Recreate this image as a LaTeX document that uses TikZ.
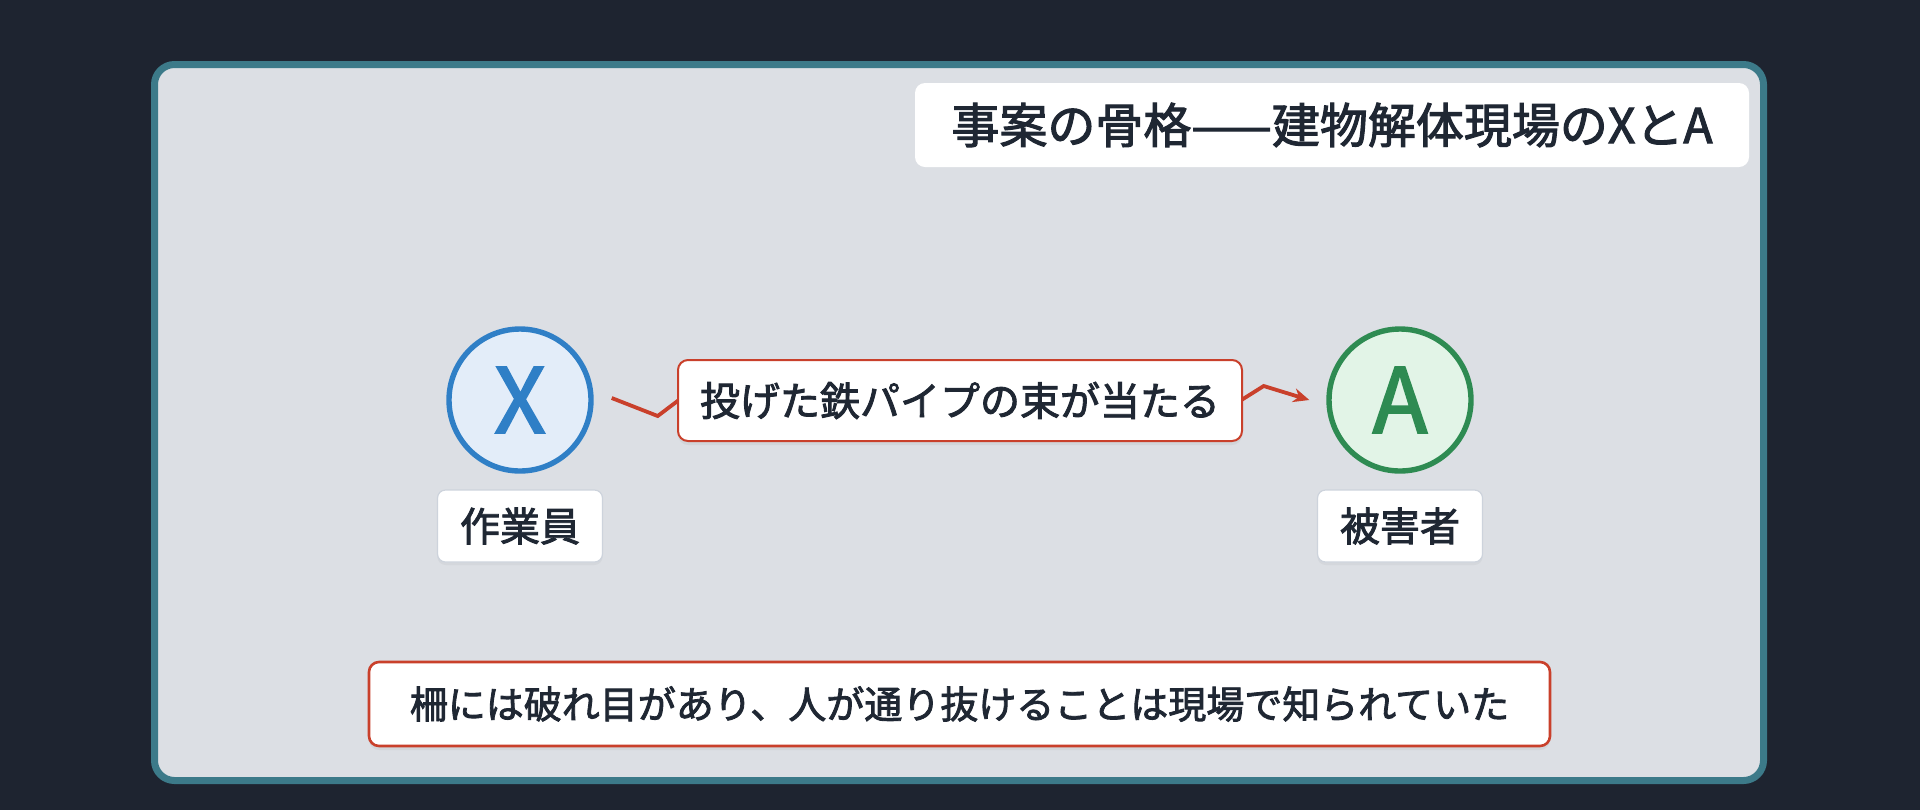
\documentclass[tikz,border=0pt]{standalone}
\usepackage{fontspec}
\setmainfont{Noto Sans CJK JP}
\newfontfamily\medium{Noto Sans CJK JP}[FakeBold=2.2]
\usetikzlibrary{arrows.meta,shadows}

\definecolor{pagebg}{HTML}{1E2430}
\definecolor{framerim}{HTML}{3C7A89}
\definecolor{framefill}{HTML}{DCDFE4}
\definecolor{ink}{HTML}{1F2733}
\definecolor{xblue}{HTML}{2F7FC6}
\definecolor{xfill}{HTML}{E3EDF9}
\definecolor{agreen}{HTML}{2E8B52}
\definecolor{afill}{HTML}{E2F4E7}
\definecolor{hitred}{HTML}{C9402B}
\definecolor{tagrim}{HTML}{CDD3DC}

\begin{document}
\begin{tikzpicture}[x=0.5pt, y=-0.5pt]
\tikzstyle{frame}    = [draw=framerim, line width=3.5pt, fill=framefill, rounded corners=10pt]
\tikzstyle{titlebox} = [rectangle, rounded corners=5pt, fill=white, text=ink, font=\medium\fontsize{24pt}{28pt}\selectfont, minimum width=417pt, minimum height=42pt]
\tikzstyle{actor}    = [circle, line width=2.7pt, minimum size=71pt, inner sep=0pt, font=\medium\fontsize{45pt}{50pt}\selectfont]
\tikzstyle{tag}      = [rectangle, rounded corners=4pt, fill=white, draw=tagrim, line width=0.6pt, text=ink, font=\medium\fontsize{20pt}{24pt}\selectfont, minimum width=82.5pt, minimum height=36pt, drop shadow={opacity=0.08, shadow xshift=0pt, shadow yshift=-1.5pt}]
\tikzstyle{redbox}   = [rectangle, rounded corners=5pt, fill=white, draw=hitred, line width=1pt, text=ink, font=\medium\fontsize{20pt}{24pt}\selectfont, minimum height=40.5pt, drop shadow={opacity=0.1, shadow xshift=0pt, shadow yshift=-2pt}]
\tikzstyle{hit}      = [draw=hitred, line width=1.9pt, line join=miter, -{Stealth[length=8pt,width=7pt]}]

\fill [pagebg] (0,0) rectangle (1920,810);
\useasboundingbox (0,0) rectangle (1920,810);
\draw [frame] (154.5,64.5) rectangle (1763.5,780.5);

\node (title)  [titlebox] at (1332,125) {事案の骨格——建物解体現場のXとA};

\node (X)      [actor, draw=xblue, fill=xfill, text=xblue] at (520,400) {X};
\node (A)      [actor, draw=agreen, fill=afill, text=agreen] at (1400,400) {A};
\node (worker) [tag, node distance=63pt, below of=X] {作業員};
\node (victim) [tag, node distance=63pt, below of=A] {被害者};

\draw [hit] ([xshift=9pt,yshift=1pt]X.east) -- ++(46,18) -- ++(45,-34) -- ++(518,31) -- ++(43,-27) -- ([xshift=-8.5pt]A.west);
\node (throw)  [redbox, minimum width=282pt] at (960,400.5) {投げた鉄パイプの束が当たる};

\node (fence)  [redbox, line width=1.3pt, minimum width=590.5pt, minimum height=42pt, font=\medium\fontsize{19pt}{23pt}\selectfont] at (959.5,704) {柵には破れ目があり、人が通り抜けることは現場で知られていた};
\end{tikzpicture}
\end{document}
